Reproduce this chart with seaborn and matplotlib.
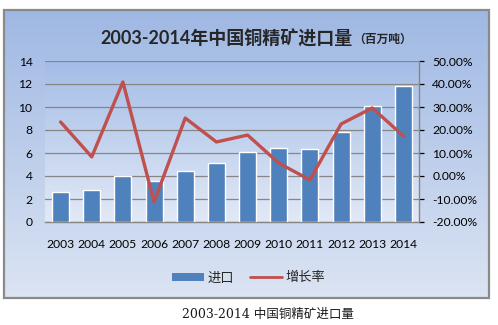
import numpy as np
import pandas as pd
import matplotlib
matplotlib.use("Agg")
import matplotlib.pyplot as plt
from matplotlib.patches import Rectangle, Patch
from matplotlib.lines import Line2D
from matplotlib.colors import LinearSegmentedColormap
from matplotlib.ticker import FuncFormatter
import seaborn as sns

# Copper concentrate imports, 2003-2014
years = [2003, 2004, 2005, 2006, 2007, 2008, 2009, 2010, 2011, 2012, 2013, 2014]
imports_mt = [2.6, 2.78, 4.0, 3.57, 4.43, 5.13, 6.09, 6.43, 6.35, 7.83, 10.09, 11.83]
growth_pct = [23.5, 8.3, 40.9, -11.3, 25.2, 14.8, 17.8, 5.6, -1.7, 22.6, 29.6, 17.4]
left_ticks = [0, 2, 4, 6, 8, 10, 12, 14]
right_ticks = [-20, -10, 0, 10, 20, 30, 40, 50]

title_main = "2003-2014年中国铜精矿进口量"
title_unit = "（百万吨）"
legend_labels = ["进口", "增长率"]
caption = "2003-2014 中国铜精矿进口量"

sns.set_style("white")
plt.rcParams["font.family"] = ["Lato", "Noto Sans CJK SC", "DejaVu Sans"]

W, H = 498, 325
fig = plt.figure(figsize=(W / 100, H / 100), dpi=100)
fig.patch.set_facecolor("white")


def frac(x0, y0, x1, y1):
    # pixel box (top-left origin) -> figure fraction rect
    return [x0 / W, (H - y1) / H, (x1 - x0) / W, (y1 - y0) / H]


def gradient_axes(rect, top, bottom, z):
    gax = fig.add_axes(rect, zorder=z)
    cmap = LinearSegmentedColormap.from_list("g", [bottom, top])
    grad = np.linspace(1, 0, 256).reshape(-1, 1)
    gax.imshow(grad, cmap=cmap, aspect="auto", extent=[0, 1, 0, 1], vmin=0, vmax=1)
    gax.set_axis_off()
    return gax


# chart frame with its vertical gradient
bg = gradient_axes(frac(4, 10, 489, 298), "#9fb8e3", "#dbe4f3", 0)
bg.add_patch(Rectangle((0, 0), 1, 1, transform=bg.transAxes, fill=False,
                       edgecolor="#8a8a8a", linewidth=1.6, clip_on=False))

# plot area gradient
plot_rect = frac(45, 61, 419, 222)
gradient_axes(plot_rect, "#a4bde7", "#e2e9f6", 1)

ax = fig.add_axes(plot_rect, zorder=2)
ax.patch.set_visible(False)

df = pd.DataFrame({"year": [str(y) for y in years], "imports": imports_mt,
                   "growth": growth_pct})

sns.barplot(data=df, x="year", y="imports", ax=ax, color="#4f81bd",
            saturation=1, width=0.55, zorder=3)
ax.set_xlim(-0.5, len(years) - 0.5)
ax.set_ylim(0, 14)
ax.set_yticks(left_ticks)
ax.yaxis.grid(True, color="#868686", linewidth=0.9)
ax.set_axisbelow(True)
ax.set_xlabel("")
ax.set_ylabel("")
for s in ["left", "top", "right"]:
    ax.spines[s].set_visible(False)
ax.spines["bottom"].set_color("#868686")
ax.spines["bottom"].set_linewidth(1.0)
ax.tick_params(axis="y", length=0, pad=9, labelsize=8.7, colors="black")
ax.tick_params(axis="x", length=0, pad=12, labelsize=8.7, colors="black")

ax2 = ax.twinx()
ax2.patch.set_visible(False)
sns.lineplot(x=np.arange(len(years)), y=df["growth"], ax=ax2, color="#c0504d",
             linewidth=2.4, zorder=4)
ax2.set_ylim(-20, 50)
ax2.set_yticks(right_ticks)
ax2.yaxis.set_major_formatter(FuncFormatter(lambda v, p: f"{v:.2f}%"))
ax2.set_ylabel("")
for s in ["left", "top", "bottom"]:
    ax2.spines[s].set_visible(False)
ax2.spines["right"].set_color("#868686")
ax2.spines["right"].set_linewidth(1.0)
ax2.tick_params(axis="y", length=3.5, width=0.9, pad=6,
                labelsize=8.7, colors="black")
for t in ax2.yaxis.get_ticklines():
    t.set_color("#868686")

# title in two sizes
t1 = fig.text(100 / W, 1 - 38 / H, title_main, ha="left", va="center",
              fontsize=13, fontweight="bold",
              family=["Lato", "Noto Sans CJK SC"], zorder=5)
fig.canvas.draw()
ax.annotate(title_unit, xy=(1, 0), xycoords=t1, xytext=(1, 1),
            textcoords="offset points", ha="left", va="bottom",
            fontsize=8.5, fontweight="bold", family=["Noto Sans CJK SC"],
            annotation_clip=False)

# legend
handles = [Patch(facecolor="#4f81bd", edgecolor="none"),
           Line2D([0], [0], color="#c0504d", linewidth=2)]
fig.legend(handles, legend_labels, loc="center", bbox_to_anchor=(249 / W, 1 - 278 / H),
           ncol=2, frameon=False, handlelength=2.4, handleheight=0.6,
           handletextpad=0.3, columnspacing=1.2,
           prop={"family": ["Noto Sans CJK SC"], "size": 9.5})

# caption under the frame
fig.text(268 / W, 1 - 314 / H, caption, ha="center", va="center", fontsize=9,
         family=["DejaVu Serif", "Noto Sans CJK SC"], color="#1a1a1a")

fig.savefig("out.png", dpi=100)
